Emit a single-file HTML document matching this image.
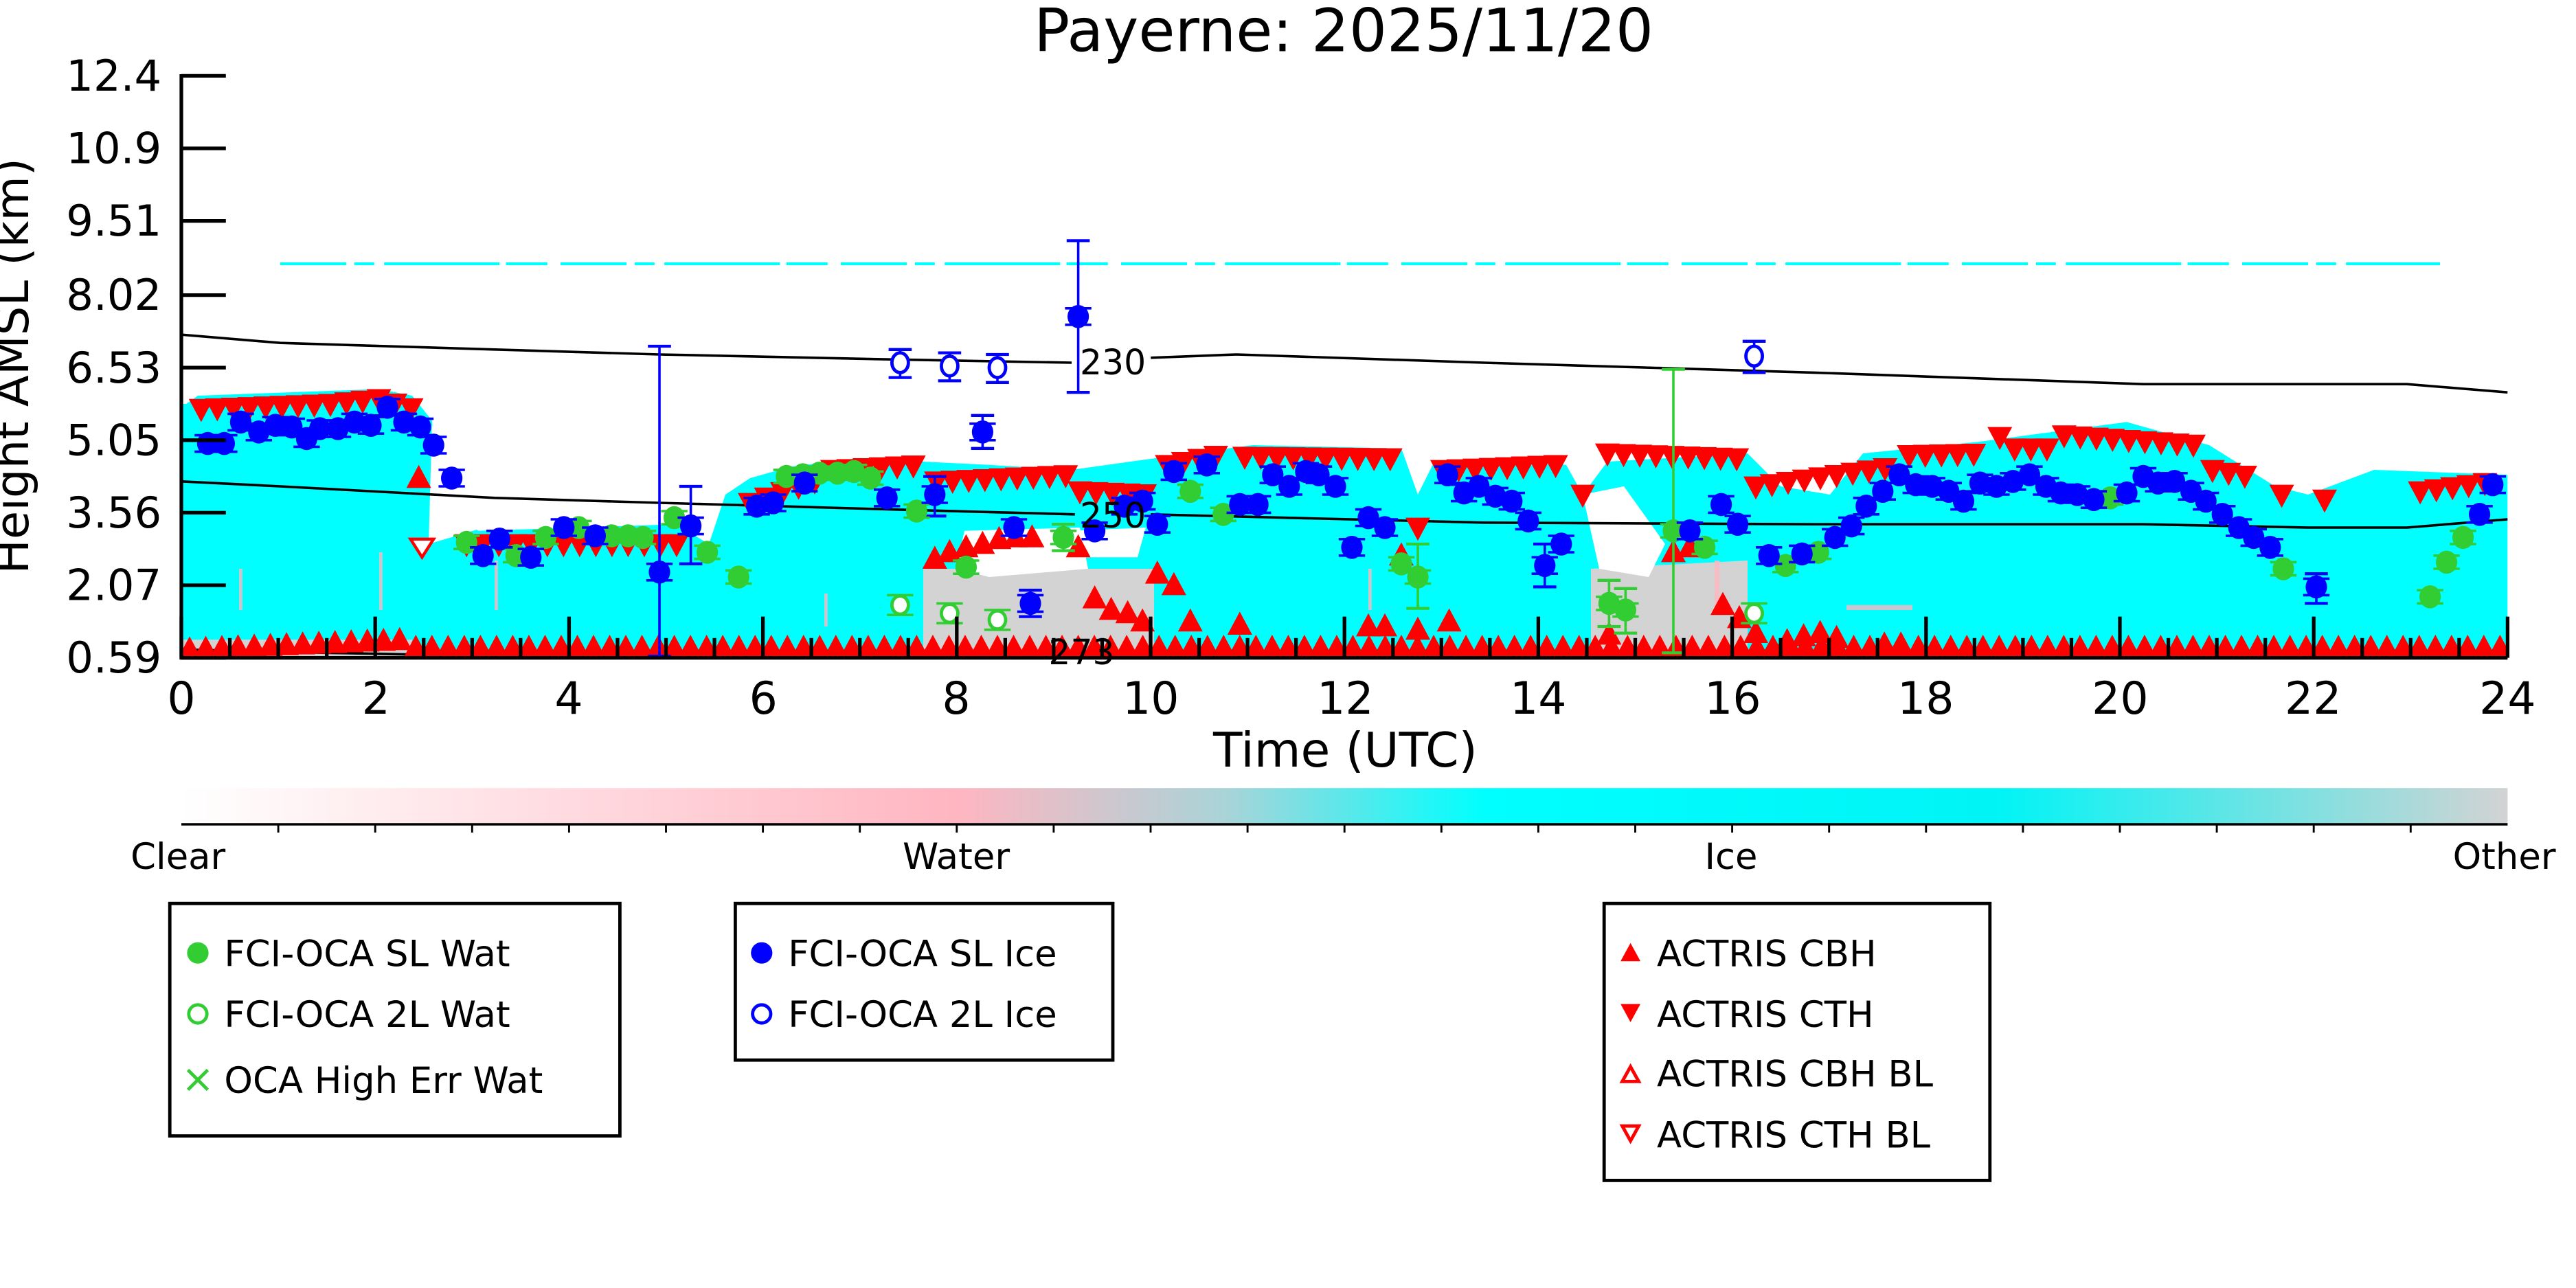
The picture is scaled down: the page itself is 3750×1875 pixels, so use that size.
<!DOCTYPE html>
<html><head><meta charset="utf-8"><style>
html,body{margin:0;padding:0;background:#fff;}
svg{display:block;}
text{font-family:"DejaVu Sans","Liberation Sans",sans-serif;}
</style></head><body>
<svg id="s" width="3750" height="1875" viewBox="0 0 1562.5 781.25" xmlns="http://www.w3.org/2000/svg">
<defs>
<linearGradient id="cb" x1="0" x2="1" y1="0" y2="0">
<stop offset="0" stop-color="#ffffff"/>
<stop offset="0.333" stop-color="#ffb6c1"/>
<stop offset="0.45" stop-color="#a8d4d8"/>
<stop offset="0.56" stop-color="#00ffff"/>
<stop offset="0.78" stop-color="#00f4f6"/>
<stop offset="1" stop-color="#d3d3d3"/>
</linearGradient>
<clipPath id="pc"><rect x="110" y="45" width="1411" height="354"/></clipPath>
</defs>
<text x="815" y="31" font-size="36" text-anchor="middle">Payerne: 2025/11/20</text>
<g clip-path="url(#pc)">
<polygon fill="#00ffff" points="113,245 120,240 230,236 250,240 262,255 265,300 290,322 410,318 430,330 440,300 455,290 480,283 520,278 560,280 600,282 650,285 700,278 760,270 850,272 860,300 870,280 950,282 960,300 975,280 1060,275 1080,295 1110,300 1130,275 1200,268 1290,256 1340,270 1380,295 1400,300 1440,285 1521,288 1521,399 110,399 110,245"/>
<polygon fill="#fff" points="262,258 300,318 260,330"/>
<rect x="560" y="345" width="140" height="54" fill="#d3d3d3"/>
<polygon fill="#fff" points="585,322 655,320 660,345 600,350 580,345"/>
<polygon fill="#fff" points="650,322 695,320 690,338 655,338"/>
<polygon fill="#d3d3d3" points="965,345 1060,340 1060,399 965,399"/>
<polygon fill="#fff" points="960,300 985,295 1010,330 1000,350 970,345"/>
<rect x="110" y="388" width="140" height="11" fill="#d3d3d3"/>
<g fill="#ffb6c1" opacity="0.8">
<rect x="145" y="345" width="2" height="25"/><rect x="230" y="335" width="2" height="35"/><rect x="300" y="340" width="2" height="30"/>
<rect x="1120" y="367" width="40" height="3"/><rect x="1040" y="340" width="3" height="30"/>
<rect x="500" y="360" width="2" height="20"/><rect x="830" y="345" width="2" height="25"/>
</g>
<line x1="170" y1="160" x2="1480" y2="160" stroke="#00ffff" stroke-width="1.8" stroke-dasharray="40,5,12,6,70,4,25,8"/>
<polyline fill="none" stroke="#000" stroke-width="1.5" points="110,203 170,208 300,212 400,215 540,218 650,220"/>
<polyline fill="none" stroke="#000" stroke-width="1.5" points="698,217 750,215 900,220 1100,226 1300,233 1460,233 1521,238"/>
<polyline fill="none" stroke="#000" stroke-width="1.5" points="110,292 170,295 300,302 400,305 540,309 652,312"/>
<polyline fill="none" stroke="#000" stroke-width="1.5" points="698,312 900,317 1100,318 1300,318 1400,320 1460,320 1521,315"/>
<polyline fill="none" stroke="#000" stroke-width="1.5" points="110,394 200,396 300,398 400,398 635,398"/>
<polyline fill="none" stroke="#000" stroke-width="1.5" points="680,398 1521,398"/>
<g id="mk"></g>
</g>
<text x="655" y="227" font-size="21">230</text>
<text x="655" y="320" font-size="21">250</text>
<text x="636" y="403" font-size="21">273</text>
<g stroke="#000" stroke-width="2.2">
<line x1="110" y1="45" x2="110" y2="400"/>
<line x1="109" y1="399" x2="1521" y2="399"/>
</g>
<g id="ticks" stroke="#000" stroke-width="2.2"></g>
<g font-size="26" text-anchor="end">
<text x="98" y="55">12.4</text><text x="98" y="99">10.9</text><text x="98" y="143">9.51</text>
<text x="98" y="188">8.02</text><text x="98" y="232">6.53</text><text x="98" y="276">5.05</text>
<text x="98" y="320">3.56</text><text x="98" y="364">2.07</text><text x="98" y="408">0.59</text>
</g>
<g font-size="27" text-anchor="middle">
<text x="110" y="433">0</text><text x="228" y="433">2</text><text x="345" y="433">4</text><text x="463" y="433">6</text>
<text x="580" y="433">8</text><text x="698" y="433">10</text><text x="816" y="433">12</text><text x="933" y="433">14</text>
<text x="1051" y="433">16</text><text x="1168" y="433">18</text><text x="1286" y="433">20</text><text x="1403" y="433">22</text><text x="1521" y="433">24</text>
</g>
<text x="816" y="465" font-size="29" text-anchor="middle">Time (UTC)</text>
<text transform="translate(17,222) rotate(-90)" font-size="28" text-anchor="middle">Height AMSL (km)</text>
<rect x="110" y="478" width="1411" height="22" fill="url(#cb)"/>
<line x1="110" y1="500" x2="1521" y2="500" stroke="#000" stroke-width="1.5"/>
<g id="cbt" stroke="#000" stroke-width="1.2"></g>
<g font-size="22" text-anchor="middle">
<text x="108" y="527">Clear</text><text x="580" y="527">Water</text><text x="1050" y="527">Ice</text><text x="1519" y="527">Other</text>
</g>
<g fill="none" stroke="#000" stroke-width="2">
<rect x="103" y="548" width="273" height="141"/>
<rect x="446" y="548" width="229" height="95"/>
<rect x="973" y="548" width="234" height="168"/>
</g>
<g font-size="22">
<text x="136" y="586">FCI-OCA SL Wat</text><text x="136" y="623">FCI-OCA 2L Wat</text><text x="136" y="663">OCA High Err Wat</text>
<text x="478" y="586">FCI-OCA SL Ice</text><text x="478" y="623">FCI-OCA 2L Ice</text>
<text x="1005" y="586">ACTRIS CBH</text><text x="1005" y="623">ACTRIS CTH</text><text x="1005" y="659">ACTRIS CBH BL</text><text x="1005" y="696">ACTRIS CTH BL</text>
</g>
<circle cx="120" cy="578" r="6.5" fill="#32cd32"/>
<circle cx="120" cy="615" r="5.5" fill="none" stroke="#32cd32" stroke-width="2"/>
<path d="M114,649 L126,661 M126,649 L114,661" stroke="#32cd32" stroke-width="2"/>
<circle cx="462" cy="578" r="6.5" fill="#0000ff"/>
<circle cx="462" cy="615" r="5.5" fill="none" stroke="#0000ff" stroke-width="2"/>
<polygon points="983,583 995,583 989,572" fill="#f00"/>
<polygon points="983,609 995,609 989,620" fill="#f00"/>
<polygon points="984,656 994,656 989,647" fill="none" stroke="#f00" stroke-width="2"/>
<polygon points="984,683 994,683 989,692" fill="none" stroke="#f00" stroke-width="2"/>
</svg>
<script>
(function(){
var NS="http://www.w3.org/2000/svg";
var mk=document.getElementById("mk"),tk=document.getElementById("ticks"),cbt=document.getElementById("cbt");
function el(p,n,a){var e=document.createElementNS(NS,n);for(var k in a)e.setAttribute(k,a[k]);p.appendChild(e);return e;}
function line(p,x1,y1,x2,y2,c,w){el(p,"line",{x1:x1,y1:y1,x2:x2,y2:y2,stroke:c,"stroke-width":w||2});}
var yt=[46,90,134,179,223,267,311,355,399];
yt.forEach(function(y){line(tk,110,y,137,y,"#000",2.2);});
for(var i=0;i<=48;i++){var x=110+i*29.396;var L=(i%4==0)?25:12;line(tk,x,399,x,399-L,"#000",2.2);}
for(var i=1;i<24;i++){var x=110+i*1411/24;line(cbt,x,500,x,505,"#000",1.2);}
var S=7.5;
var up=[];
for(var x=115;x<=1518;x+=9.8){var y=393; if(x<250) y=394-(x-115)/135*6; up.push([x,y]);}
[[254,290],[567,339],[576,335],[586,332],[596,330],[606,327],[616,326],[626,326],[654,332],[664,363],[674,370],[684,372],[693,377],[702,348],[712,355],[722,377],[752,379],[830,380],[840,380],[850,337],[860,382],[879,377],[976,385],[1015,335],[1025,332],[1045,367],[1055,375],[1065,384],[1084,389],[1094,386],[1104,384],[1114,387],[1143,391],[1153,391]].forEach(function(p){up.push(p);});
up.forEach(function(p){el(mk,"polygon",{points:(p[0]-S)+","+(p[1]+6)+" "+(p[0]+S)+","+(p[1]+6)+" "+p[0]+","+(p[1]-8),fill:"#f00"});});
var segs=[[[122,248],[200,245],[230,242],[258,250]],[[283,330],[420,330]],[[455,305],[500,290]],[[505,285],[560,282]],[[568,292],[650,288]],[[655,298],[700,300]],[[708,282],[745,275]],[[755,277],[850,278]],[[860,320]],[[875,285],[945,282]],[[960,300]],[[975,275],[1055,278]],[[1065,295],[1150,283]],[[1158,276],[1205,275]],[[1213,265]],[[1222,272],[1245,272]],[[1252,264],[1335,270]],[[1342,285],[1370,290]],[[1384,300]],[[1410,303]],[[1468,298],[1515,292]]];
function interp(s,x){for(var i=0;i<s.length-1;i++){if(x>=s[i][0]&&x<=s[i+1][0]){var t=(x-s[i][0])/(s[i+1][0]-s[i][0]);return s[i][1]+t*(s[i+1][1]-s[i][1]);}}return s[s.length-1][1];}
segs.forEach(function(s){var x0=s[0][0],x1=s[s.length-1][0];for(var x=x0;x<=x1+0.1;x+=9.8){var y=interp(s,x);el(mk,"polygon",{points:(x-S)+","+(y-6)+" "+(x+S)+","+(y-6)+" "+x+","+(y+8),fill:"#f00"});}});
el(mk,"polygon",{points:"249,327 263,327 256,338",fill:"#fff",stroke:"#f00","stroke-width":1.8});
function eb(x,y1,y2,c){line(mk,x,y1,x,y2,c,1.5);line(mk,x-7,y1,x+7,y1,c,1.8);line(mk,x-7,y2,x+7,y2,c,1.8);}
eb(400,210,398,"#0000ff");eb(419,295,342,"#0000ff");eb(654,146,238,"#0000ff");eb(596,252,272,"#0000ff");eb(567,289,313,"#0000ff");eb(625,358,374,"#0000ff");
eb(546,212,229,"#0000ff");eb(576,214,231,"#0000ff");eb(605,215,232,"#0000ff");eb(1064,207,226,"#0000ff");eb(1405,348,366,"#0000ff");eb(937,330,356,"#0000ff");
eb(1015,224,396,"#32cd32");eb(860,330,369,"#32cd32");eb(976,352,380,"#32cd32");eb(986,357,384,"#32cd32");eb(645,318,334,"#32cd32");
var g=[[283,329],[313,337],[331,326],[351,320],[371,325],[381,325],[390,326],[409,314],[429,335],[448,350],[477,289],[487,288],[497,287],[508,287],[518,286],[528,290],[556,310],[586,344],[645,326],[722,298],[742,312],[850,342],[860,350],[976,366],[986,370],[1015,322],[1034,332],[1083,343],[1103,335],[1280,302],[1385,345],[1474,362],[1484,341],[1494,326]];
g.forEach(function(p){line(mk,p[0]-8,p[1]-4,p[0]+8,p[1]-4,"#32cd32",1.5);line(mk,p[0]-8,p[1]+4,p[0]+8,p[1]+4,"#32cd32",1.5);el(mk,"ellipse",{cx:p[0],cy:p[1],rx:6.5,ry:7,fill:"#32cd32"});});
[[546,367],[576,372],[605,376],[1064,372]].forEach(function(p){line(mk,p[0]-8,p[1]-6,p[0]+8,p[1]-6,"#32cd32",1.5);line(mk,p[0]-8,p[1]+6,p[0]+8,p[1]+6,"#32cd32",1.5);el(mk,"ellipse",{cx:p[0],cy:p[1],rx:5,ry:5.5,fill:"#fff",stroke:"#32cd32","stroke-width":2});});
var b=[[126,269],[136,269],[146,256],[157,262],[167,258],[177,259],[186,266],[194,260],[205,260],[215,256],[225,258],[235,247],[245,256],[255,259],[263,270],[274,290],[293,337],[303,327],[322,338],[342,320],[361,325],[400,347],[419,319],[459,307],[469,305],[488,293],[538,302],[567,300],[596,262],[615,320],[625,366],[654,192],[664,322],[682,307],[693,304],[702,318],[712,286],[732,282],[752,306],[763,306],[772,288],[782,295],[792,286],[800,288],[810,295],[820,332],[830,314],[840,320],[878,288],[888,299],[897,295],[907,301],[917,304],[927,316],[937,343],[947,330],[1025,322],[1044,306],[1054,318],[1073,337],[1093,336],[1113,326],[1123,319],[1132,307],[1142,298],[1152,288],[1162,294],[1172,295],[1182,298],[1191,304],[1201,293],[1211,295],[1221,292],[1231,288],[1241,295],[1250,299],[1260,300],[1270,303],[1290,299],[1300,289],[1309,293],[1319,292],[1329,298],[1338,304],[1348,312],[1358,320],[1367,326],[1377,332],[1405,356],[1504,312],[1512,294]];
b.forEach(function(p){line(mk,p[0]-8,p[1]-5,p[0]+8,p[1]-5,"#0000ff",1.5);line(mk,p[0]-8,p[1]+5,p[0]+8,p[1]+5,"#0000ff",1.5);el(mk,"ellipse",{cx:p[0],cy:p[1],rx:6.5,ry:7,fill:"#0000ff"});});
[[546,220],[576,222],[605,223],[1064,216]].forEach(function(p){el(mk,"ellipse",{cx:p[0],cy:p[1],rx:5,ry:6,fill:"#fff",stroke:"#0000ff","stroke-width":2});});
})();
</script>
</body></html>
